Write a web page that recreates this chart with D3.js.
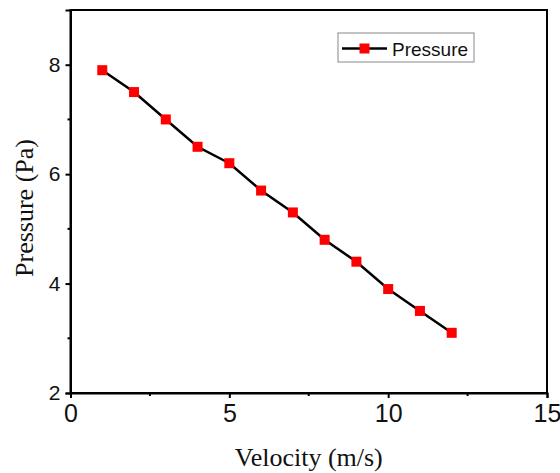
<!DOCTYPE html>
<html>
<head>
<meta charset="utf-8">
<script src="https://cdn.jsdelivr.net/npm/d3@7"></script>
<style>
  body { margin: 0; background: #fff; }
  svg { display: block; }
</style>
</head>
<body>
<svg id="chart"></svg>
<script>
// Data
const velocity = [1, 2, 3, 4, 5, 6, 7, 8, 9, 10, 11, 12];
const pressure = [7.9, 7.5, 7.0, 6.5, 6.2, 5.7, 5.3, 4.8, 4.4, 3.9, 3.5, 3.1];
const xTicks = [0, 5, 10, 15];
const yTicks = [2, 4, 6, 8];
const xMinor = [2.5, 7.5, 12.5];
const yMinor = [3, 5, 7];
const seriesName = "Pressure";

const W = 560, H = 473;
const margin = { top: 10, right: 13, bottom: 80, left: 70.5 };
const width = W - margin.left - margin.right;
const height = H - margin.top - margin.bottom;

const svg = d3.select("#chart").attr("width", W).attr("height", H);
const g = svg.append("g").attr("transform", `translate(${margin.left},${margin.top})`);

const x = d3.scaleLinear().domain([0, 15]).range([0, width]);
const y = d3.scaleLinear().domain([2, 9]).range([height, 0]);

const points = velocity.map((v, i) => ({ x: v, y: pressure[i] }));

// Frame (top and right plain lines)
g.append("rect")
  .attr("x", 0).attr("y", 0)
  .attr("width", width).attr("height", height)
  .attr("fill", "none")
  .attr("stroke", "#000")
  .attr("stroke-width", 2);

// X axis
const xAxis = g.append("g")
  .attr("transform", `translate(0,${height})`)
  .call(d3.axisBottom(x).tickValues(xTicks).tickSize(5).tickPadding(6).tickFormat(d3.format("d")));
xAxis.select(".domain").attr("stroke-width", 2);
xAxis.selectAll(".tick line").attr("stroke-width", 2);
xAxis.selectAll(".tick text")
  .attr("font-family", "Liberation Sans, Arial, sans-serif")
  .attr("font-size", 25)
  .attr("fill", "#111");
g.append("g")
  .attr("transform", `translate(0,${height})`)
  .selectAll("line")
  .data(xMinor)
  .join("line")
  .attr("x1", d => x(d)).attr("x2", d => x(d))
  .attr("y1", 0).attr("y2", 3)
  .attr("stroke", "#000").attr("stroke-width", 2);

// Y axis
const yAxis = g.append("g")
  .call(d3.axisLeft(y).tickValues(yTicks).tickSize(5).tickPadding(5).tickFormat(d3.format("d")));
yAxis.select(".domain").attr("stroke-width", 2);
yAxis.selectAll(".tick line").attr("stroke-width", 2);
yAxis.selectAll(".tick text")
  .attr("font-family", "Liberation Sans, Arial, sans-serif")
  .attr("font-size", 21)
  .attr("fill", "#111");
g.append("g")
  .selectAll("line")
  .data(yMinor)
  .join("line")
  .attr("x1", 0).attr("x2", -3)
  .attr("y1", d => y(d)).attr("y2", d => y(d))
  .attr("stroke", "#000").attr("stroke-width", 2);

// Line
g.append("path")
  .datum(points)
  .attr("fill", "none")
  .attr("stroke", "#000")
  .attr("stroke-width", 2.5)
  .attr("d", d3.line().x(d => x(d.x)).y(d => y(d.y)));

// Markers
const ms = 10;
g.selectAll(".marker")
  .data(points)
  .join("rect")
  .attr("class", "marker")
  .attr("x", d => x(d.x) - ms / 2)
  .attr("y", d => y(d.y) - ms / 2)
  .attr("width", ms)
  .attr("height", ms)
  .attr("fill", "#ff0000");

// Axis titles
svg.append("text")
  .attr("x", margin.left + width / 2)
  .attr("y", 466)
  .attr("text-anchor", "middle")
  .attr("font-family", "Liberation Serif, Times New Roman, serif")
  .attr("font-size", 26)
  .attr("fill", "#111")
  .text("Velocity (m/s)");

svg.append("text")
  .attr("transform", "translate(33,208) rotate(-90)")
  .attr("text-anchor", "middle")
  .attr("font-family", "Liberation Serif, Times New Roman, serif")
  .attr("font-size", 26)
  .attr("fill", "#111")
  .text("Pressure (Pa)");

// Legend
const legend = svg.append("g").attr("transform", "translate(338,33)");
legend.append("rect")
  .attr("width", 136).attr("height", 29)
  .attr("fill", "#fff")
  .attr("stroke", "#888")
  .attr("stroke-width", 1);
legend.append("line")
  .attr("x1", 4).attr("x2", 49)
  .attr("y1", 15.5).attr("y2", 15.5)
  .attr("stroke", "#000").attr("stroke-width", 2.5);
legend.append("rect")
  .attr("x", 26.5 - ms / 2).attr("y", 15.5 - ms / 2)
  .attr("width", ms).attr("height", ms)
  .attr("fill", "#ff0000");
legend.append("text")
  .attr("x", 54).attr("y", 22.5)
  .attr("font-family", "Liberation Sans, Arial, sans-serif")
  .attr("font-size", 19)
  .attr("fill", "#111")
  .text(seriesName);
</script>
</body>
</html>
